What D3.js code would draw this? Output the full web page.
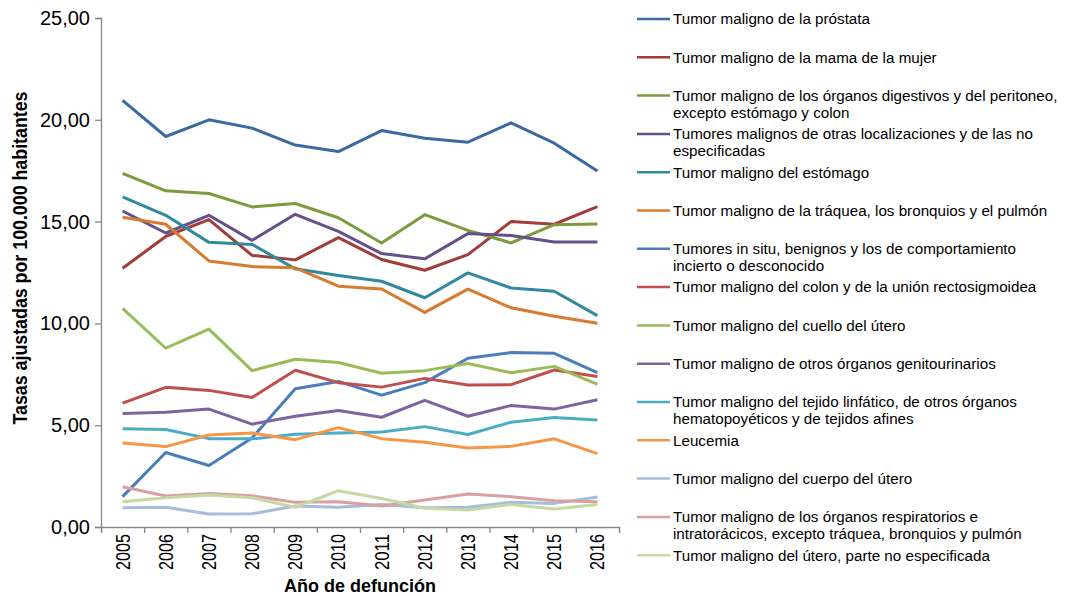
<!DOCTYPE html>
<html>
<head>
<meta charset="utf-8">
<script src="https://cdn.jsdelivr.net/npm/d3@7"></script>
<style>
  body { margin: 0; background: #fff; }
  svg { display: block; font-family: "Liberation Sans", Arial, sans-serif; }
</style>
</head>
<body>
<div id="root"></div>
<script>
const w = 1067;
const h = 596;

const years = ["2005", "2006", "2007", "2008", "2009", "2010", "2011", "2012", "2013", "2014", "2015", "2016"];
const yTicks = [0, 5, 10, 15, 20, 25];

const names = [
  "Tumor maligno de la próstata",
  "Tumor maligno de la mama de la mujer",
  "Tumor maligno de los órganos digestivos y del peritoneo, excepto estómago y colon",
  "Tumores malignos de otras localizaciones y de las no especificadas",
  "Tumor maligno del estómago",
  "Tumor maligno de la tráquea, los bronquios y el pulmón",
  "Tumores in situ, benignos y los de comportamiento incierto o desconocido",
  "Tumor maligno del colon y de la unión rectosigmoidea",
  "Tumor maligno del cuello del útero",
  "Tumor maligno de otros órganos genitourinarios",
  "Tumor maligno del tejido linfático, de otros órganos hematopoyéticos y de tejidos afines",
  "Leucemia",
  "Tumor maligno del cuerpo del útero",
  "Tumor maligno de los órganos respiratorios e intratorácicos, excepto tráquea, bronquios y pulmón",
  "Tumor maligno del útero, parte no especificada"
];

const colors = ["#3b69a1", "#a13c39", "#7c9b3e", "#65508a", "#31899f", "#d67b2f", "#4a7ebb",
  "#c0504d", "#9bbb59", "#7f63a1", "#4bacc6", "#f79646", "#a5bcdc", "#d9a09f", "#c6d8a3"];

const prostata = [20.95, 19.18, 20.0, 19.59, 18.76, 18.44, 19.47, 19.09, 18.9, 19.85, 18.85, 17.48];
const mama = [12.71, 14.27, 15.1, 13.34, 13.12, 14.21, 13.14, 12.61, 13.38, 15.0, 14.87, 15.74];
const digestivos = [17.37, 16.51, 16.38, 15.72, 15.89, 15.19, 13.95, 15.34, 14.57, 13.95, 14.85, 14.88];
const otrasLoc = [15.52, 14.44, 15.31, 14.08, 15.36, 14.52, 13.43, 13.17, 14.41, 14.32, 14.0, 14.0];
const estomago = [16.22, 15.31, 13.98, 13.88, 12.68, 12.35, 12.07, 11.26, 12.48, 11.74, 11.58, 10.38];
const traquea = [15.21, 14.87, 13.07, 12.79, 12.73, 11.83, 11.69, 10.54, 11.68, 10.77, 10.35, 10.01];
const inSitu = [1.49, 3.66, 3.02, 4.37, 6.79, 7.15, 6.48, 7.09, 8.29, 8.57, 8.53, 7.58];
const colon = [6.08, 6.86, 6.71, 6.36, 7.70, 7.09, 6.87, 7.3, 6.97, 6.99, 7.71, 7.39];
const cuello = [10.74, 8.78, 9.72, 7.68, 8.24, 8.08, 7.55, 7.68, 8.03, 7.58, 7.89, 7.0];
const genitourinarios = [5.57, 5.64, 5.79, 5.05, 5.44, 5.72, 5.39, 6.22, 5.44, 5.97, 5.79, 6.25];
const linfatico = [4.83, 4.79, 4.34, 4.33, 4.55, 4.62, 4.67, 4.93, 4.54, 5.15, 5.38, 5.26];
const leucemia = [4.13, 3.95, 4.52, 4.62, 4.29, 4.88, 4.34, 4.16, 3.88, 3.96, 4.33, 3.6];
const cuerpoUtero = [0.95, 0.97, 0.64, 0.65, 1.03, 0.97, 1.1, 0.95, 0.97, 1.21, 1.16, 1.47];
const respiratorios = [1.98, 1.52, 1.65, 1.54, 1.21, 1.24, 1.03, 1.33, 1.62, 1.49, 1.29, 1.24];
const uteroNoEsp = [1.24, 1.44, 1.57, 1.44, 0.97, 1.78, 1.4, 0.92, 0.83, 1.11, 0.88, 1.11];

const values = [prostata, mama, digestivos, otrasLoc, estomago, traquea, inSitu, colon,
  cuello, genitourinarios, linfatico, leucemia, cuerpoUtero, respiratorios, uteroNoEsp];

const series = names.map((name, i) => ({ name, color: colors[i], values: values[i] }));

const plotLeft = 101;
const plotRight = 619;
const plotTop = 18;
const plotBottom = 527;

const xScale = d3.scaleBand()
  .domain(years)
  .range([plotLeft, plotRight])
  .padding(0);

const xEdges = d3.scaleLinear()
  .domain([0, years.length])
  .range([plotLeft, plotRight]);

const yScale = d3.scaleLinear()
  .domain([0, 25])
  .range([plotBottom, plotTop]);

const svg = d3.select("#root")
  .append("svg")
  .attr("width", w)
  .attr("height", h);

// y-axis
const yAxis = d3.axisLeft(yScale)
  .tickValues(yTicks)
  .tickSize(6)
  .tickPadding(5)
  .tickFormat(d => d.toFixed(2).replace(".", ","));
const gy = svg.append("g")
  .attr("transform", "translate(" + plotLeft + ",0)")
  .call(yAxis);
gy.select(".domain").attr("stroke", "#868686").attr("stroke-width", 1.3);
gy.selectAll(".tick line").attr("stroke", "#868686").attr("stroke-width", 1.3);
gy.selectAll(".tick text")
  .attr("fill", "#000")
  .style("font-size", "20px")
  .style("font-family", "'Liberation Sans', Arial, sans-serif");

// x-axis: boundary ticks
const xTickAxis = d3.axisBottom(xEdges)
  .tickValues(d3.range(years.length + 1))
  .tickSize(6)
  .tickFormat("");
const gxt = svg.append("g")
  .attr("transform", "translate(0," + plotBottom + ")")
  .call(xTickAxis);
gxt.select(".domain").attr("stroke", "#868686").attr("stroke-width", 1.3);
gxt.selectAll(".tick line").attr("stroke", "#868686").attr("stroke-width", 1.3);

// x-axis: year labels
const xAxis = d3.axisBottom(xScale).tickSize(0).tickPadding(0);
const gx = svg.append("g")
  .attr("transform", "translate(0," + plotBottom + ")")
  .call(xAxis);
gx.select(".domain").remove();
gx.selectAll(".tick text")
  .attr("fill", "#000")
  .attr("transform", "rotate(-90)")
  .attr("text-anchor", "end")
  .attr("x", -7)
  .attr("y", 0)
  .attr("dy", "0.35em")
  .attr("textLength", 36)
  .attr("lengthAdjust", "spacingAndGlyphs")
  .style("font-size", "20px")
  .style("font-family", "'Liberation Sans Narrow', 'Liberation Sans', Arial, sans-serif");

// x-axis label
svg.append("text")
  .attr("x", (plotLeft + plotRight) / 2)
  .attr("y", 592)
  .attr("text-anchor", "middle")
  .style("font-size", "18px")
  .style("font-weight", "bold")
  .text("Año de defunción");

// y-axis label
svg.append("text")
  .attr("transform", "translate(27," + 258 + ") rotate(-90)")
  .attr("text-anchor", "middle")
  .attr("textLength", 333)
  .attr("lengthAdjust", "spacingAndGlyphs")
  .style("font-size", "20px")
  .style("font-weight", "bold")
  .style("font-family", "'Liberation Sans Narrow', 'Liberation Sans', Arial, sans-serif")
  .text("Tasas ajustadas por 100.000 habitantes");

// lines
const line = d3.line()
  .x((d, i) => xScale(years[i]) + xScale.bandwidth() / 2)
  .y(d => yScale(d));

svg.selectAll(".series")
  .data(series)
  .enter()
  .append("path")
  .attr("class", "series")
  .attr("d", d => line(d.values))
  .attr("fill", "none")
  .attr("stroke", d => d.color)
  .attr("stroke-width", 3)
  .attr("stroke-linejoin", "round");

// legend
const legendTop = 19;
const legendStep = 38.3;
const legendX = 637;
const textX = 673;
const maxTextWidth = 393;

const legend = svg.selectAll(".legend")
  .data(series)
  .enter()
  .append("g")
  .attr("class", "legend")
  .attr("transform", (d, i) => "translate(0," + (legendTop + i * legendStep) + ")");

legend.append("line")
  .attr("x1", legendX)
  .attr("x2", legendX + 33)
  .attr("y1", 0)
  .attr("y2", 0)
  .attr("stroke", d => d.color)
  .attr("stroke-width", 2.5);

legend.each(function(d) {
  const g = d3.select(this);
  const text = g.append("text")
    .attr("x", textX)
    .attr("y", 0)
    .style("font-size", "15.2px")
    .attr("fill", "#000");
  const words = d.name.split(" ");
  let tspan = text.append("tspan").attr("x", textX).attr("dy", "0.35em");
  let current = [];
  words.forEach(word => {
    current.push(word);
    tspan.text(current.join(" "));
    if (tspan.node().getComputedTextLength() > maxTextWidth && current.length > 1) {
      current.pop();
      tspan.text(current.join(" "));
      current = [word];
      tspan = text.append("tspan").attr("x", textX).attr("dy", "17px").text(word);
    }
  });
});
</script>
</body>
</html>
